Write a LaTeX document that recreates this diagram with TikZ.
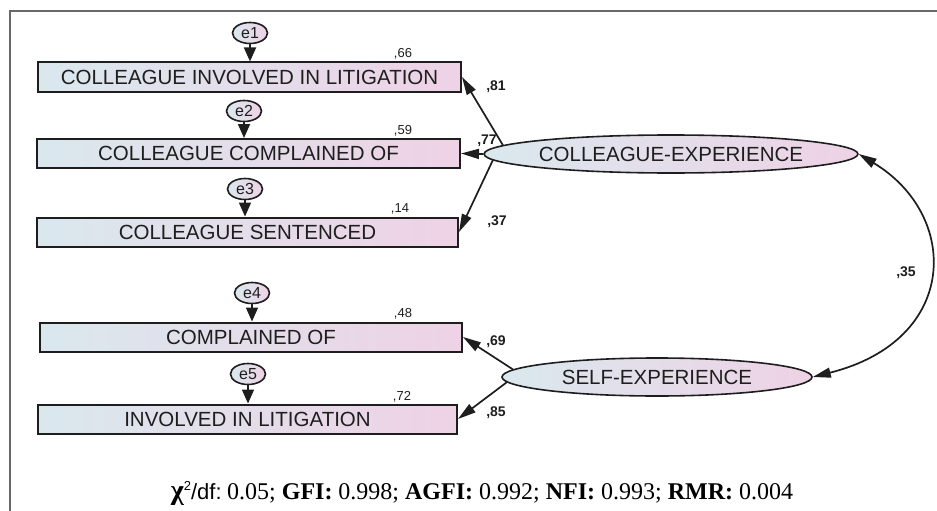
\documentclass[tikz,border=0pt]{standalone}
\usepackage{fontspec}
\setmainfont{Liberation Sans}
\newfontfamily\serifft{Liberation Serif}
\usetikzlibrary{arrows.meta,shapes.geometric,calc}
\definecolor{lblue}{RGB}{218,232,238}
\definecolor{lpink}{RGB}{238,210,229}
\definecolor{framegray}{RGB}{105,105,105}
\definecolor{ink}{RGB}{30,30,30}
\begin{document}
\begin{tikzpicture}[x=1pt,y=-1pt,
  obs/.style={draw=ink, line width=2pt, left color=lblue, right color=lpink,
    minimum height=29pt, inner sep=0pt, text=ink, font=\fontsize{20.5}{20.5}\selectfont},
  err/.style={ellipse, draw=ink, line width=1.6pt, left color=lblue, right color=lpink,
    minimum width=35pt, minimum height=21pt, inner sep=0pt, text=ink, font=\fontsize{16}{16}\selectfont},
  lat/.style={ellipse, draw=ink, line width=1.6pt, left color=lblue, right color=lpink,
    minimum width=310pt, minimum height=38pt, inner sep=0pt, text=ink, font=\fontsize{20.5}{20.5}\selectfont},
  earrow/.style={draw=ink, line width=1.8pt, -{Triangle[length=14pt,width=12pt]}},
  load/.style={draw=ink, line width=1.7pt, -{Triangle[length=18pt,width=10pt]}},
  cov/.style={draw=ink, line width=1.7pt, {Triangle[length=18pt,width=10pt]}-{Triangle[length=18pt,width=10pt]}},
  rsq/.style={text=ink, font=\fontsize{13}{13}\selectfont},
  coef/.style={text=ink, font=\bfseries\fontsize{14}{14}\selectfont},
  framestyle/.style={draw=framegray, line width=2.5pt}
]
\useasboundingbox (0,0) rectangle (937,511);
% frame
\draw[framestyle] (937,11) -- (10,11) -- (10,511);

% observed variables
\node[obs, minimum width=423pt] (b1) at (249.5,77) {COLLEAGUE INVOLVED IN LITIGATION};
\node[obs, minimum width=423pt] (b2) at (248.5,153.5) {COLLEAGUE COMPLAINED OF};
\node[obs, minimum width=421pt] (b3) at (247.5,232) {COLLEAGUE SENTENCED};
\node[obs, minimum width=422pt] (b4) at (251,337) {COMPLAINED OF};
\node[obs, minimum width=419pt] (b5) at (247.5,419) {INVOLVED IN LITIGATION};

% errors
\node[err] (e1) at (250,33) {e1};
\node[err] (e2) at (244,111) {e2};
\node[err] (e3) at (245,189) {e3};
\node[err] (e4) at (252,293) {e4};
\node[err] (e5) at (248,374) {e5};

\draw[earrow] (e1) -- (e1 |- b1.north);
\draw[earrow] (e2) -- (e2 |- b2.north);
\draw[earrow] (e3) -- (e3 |- b3.north);
\draw[earrow] (e4) -- (e4 |- b4.north);
\draw[earrow] (e5) -- (e5 |- b5.north);

% squared multiple correlations
\node[rsq] (r1) at (403,54) {,66};
\node[rsq] (r2) at (403,131) {,59};
\node[rsq] (r3) at (400,209) {,14};
\node[rsq] (r4) at (403,314) {,48};
\node[rsq] (r5) at (402,397) {,72};

% latent variables
\node[lat] (ce) at (671,154) {COLLEAGUE-EXPERIENCE};
\node[lat] (se) at (657,377) {SELF-EXPERIENCE};

% loadings
\draw[load] (ce.177.5) -- (b1.east);
\draw[load] (ce.west) -- (b2.east);
\draw[load] (ce.182.5) -- (b3.east);
\draw[load] (se.177.5) -- (b4.east);
\draw[load] (se.182.5) -- (b5.east);

\node[coef] (c1) at (496,87) {,81};
\node[coef] (c2) at (487,141) {,77};
\node[coef] (c3) at (497,222) {,37};
\node[coef] (c4) at (496,342) {,69};
\node[coef] (c5) at (496,413) {,85};

% covariance
\draw[cov] (ce.east) .. controls (960,215) and (960,340) .. (se.east);
\node[coef] (c6) at (906,273) {,35};

% fit indices
\node[text=black, anchor=base] (fit) at (482,499) {{\serifft\bfseries\fontsize{28}{28}\selectfont χ}\raisebox{9pt}{\fontsize{13}{13}\selectfont 2}{\fontsize{22}{22}\selectfont /df:}\ \ {\serifft\fontsize{24}{24}\selectfont 0.05; \textbf{GFI:} 0.998; \textbf{AGFI:} 0.992; \textbf{NFI:} 0.993; \textbf{RMR:} 0.004}};
\end{tikzpicture}
\end{document}
